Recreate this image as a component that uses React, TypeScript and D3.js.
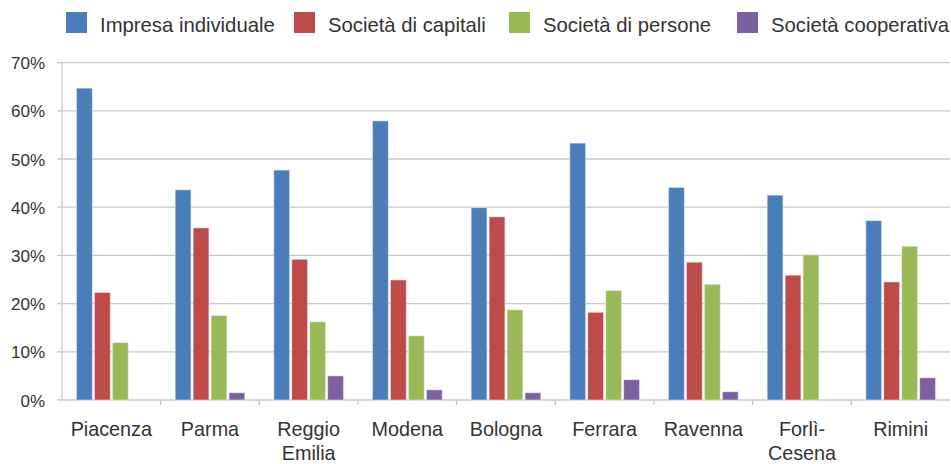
import React from "react";
import * as d3 from "d3";

const categories = ["Piacenza", "Parma", "Reggio\nEmilia", "Modena", "Bologna", "Ferrara", "Ravenna", "Forlì-\nCesena", "Rimini"];
const seriesNames = ["Impresa individuale", "Società di capitali", "Società di persone", "Società cooperativa"];
const impresaIndividuale = [64.7, 43.6, 47.7, 57.9, 39.9, 53.3, 44.1, 42.5, 37.2];
const societaCapitali = [22.3, 35.7, 29.2, 24.9, 38.0, 18.2, 28.6, 25.9, 24.5];
const societaPersone = [11.9, 17.5, 16.2, 13.3, 18.7, 22.7, 24.0, 30.1, 31.9];
const societaCooperativa = [0, 1.5, 5.0, 2.1, 1.5, 4.2, 1.7, 0, 4.6];
const yTicks = [0, 10, 20, 30, 40, 50, 60, 70];
const colors = ["#4a7ebb", "#be4b48", "#98b954", "#7d60a0"];

const W = 951, H = 464;
const left = 62, right = 950, top = 62.6, bottom = 400;
const FONT = "'Liberation Sans', Arial, sans-serif";

export default function App() {
  const values = [impresaIndividuale, societaCapitali, societaPersone, societaCooperativa];
  const x0 = d3.scaleBand<number>().domain(d3.range(categories.length)).range([left, right]).padding(0);
  const cw = x0.bandwidth();
  const x1 = d3.scaleBand<number>().domain(d3.range(4)).range([14.5, cw - 14.5]).paddingInner(0.12).paddingOuter(0);
  const y = d3.scaleLinear().domain([0, 70]).range([bottom, top]);
  const legendX = [66, 294, 509, 737];

  return (
    <svg width={W} height={H} style={{ position: "absolute", left: 0, top: 0, background: "#fff" }}>
      {/* legend */}
      {seriesNames.map((s, i) => (
        <g key={s}>
          <rect x={legendX[i]} y={12} width={21} height={21} fill={colors[i]} />
          <text x={legendX[i] + 34} y={31.5} fontFamily={FONT} fontSize={20.3} fill="#333">{s}</text>
        </g>
      ))}
      {/* grid */}
      {yTicks.map((t) => (
        <g key={t}>
          <line x1={left - 5} x2={right} y1={y(t)} y2={y(t)} stroke="#c8c8c8" strokeWidth={1.3} />
          <text x={45} y={y(t) + 6.5} textAnchor="end" fontFamily={FONT} fontSize={17} fill="#333">{t}%</text>
        </g>
      ))}
      <line x1={left} x2={left} y1={top} y2={bottom} stroke="#c8c8c8" strokeWidth={1.3} />
      {d3.range(1, categories.length).map((i) => (
        <line key={i} x1={x0(i)!} x2={x0(i)!} y1={bottom} y2={bottom + 5} stroke="#c8c8c8" strokeWidth={1.3} />
      ))}
      {/* bars */}
      {categories.map((c, ci) => (
        <g key={c} transform={`translate(${x0(ci)},0)`}>
          {values.map((vals, si) =>
            vals[ci] > 0 ? (
              <rect key={si} x={x1(si)!} y={y(vals[ci])} width={x1.bandwidth()} height={bottom - y(vals[ci])}
                fill={colors[si]} stroke="#e8eef8" strokeWidth={0.8} strokeOpacity={0.7} />
            ) : null
          )}
        </g>
      ))}
      {/* x labels */}
      {categories.map((c, ci) => (
        <text key={c} x={x0(ci)! + cw / 2} y={436} textAnchor="middle" fontFamily={FONT} fontSize={19.8} fill="#333">
          {c.split("\n").map((ln, li) => (
            <tspan key={li} x={x0(ci)! + cw / 2} dy={li === 0 ? 0 : 24}>{ln}</tspan>
          ))}
        </text>
      ))}
    </svg>
  );
}
